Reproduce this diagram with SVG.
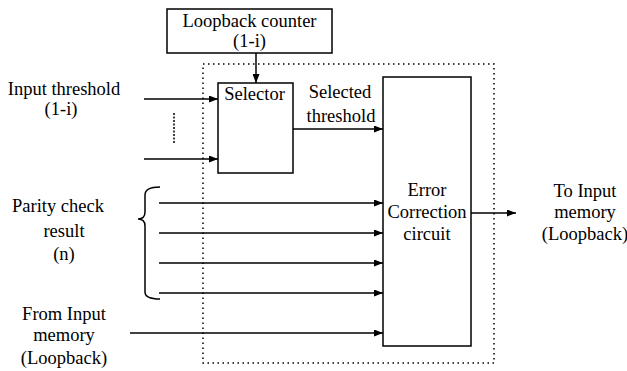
<svg xmlns="http://www.w3.org/2000/svg" width="627" height="371" viewBox="0 0 627 371" font-family="'Liberation Serif', 'DejaVu Serif', serif">
<defs>
<marker id="ah" markerWidth="9" markerHeight="7" refX="9" refY="3.5" orient="auto" markerUnits="userSpaceOnUse">
<path d="M0,0 L9,3.5 L0,7 Z" fill="#000"/>
</marker>
<style>
text{font-family:'Liberation Serif','DejaVu Serif',serif;font-size:18.5px;fill:#000;text-anchor:middle}
.box{fill:#fff;stroke:#000;stroke-width:1.5}
.ln{stroke:#000;stroke-width:1.5;fill:none}
.dot{stroke:#000;stroke-width:1.5;fill:none;stroke-dasharray:1.5 3.5}
</style>
</defs>
<rect width="627" height="371" fill="#fff"/>
<rect class="dot" x="203" y="64" width="291" height="299"/>
<g id="loopback-counter">
<rect class="box" x="167" y="9" width="165" height="44"/>
<text x="249.5" y="27">Loopback counter</text>
<text x="249.5" y="47">(1-i)</text>
</g>
<g id="selector">
<rect class="box" x="218" y="83" width="75" height="90"/>
<text x="254.5" y="100">Selector</text>
</g>
<g id="error-correction">
<rect class="box" x="383" y="77" width="88" height="269"/>
<text x="427" y="196">Error</text>
<text x="427" y="218">Correction</text>
<text x="427" y="240">circuit</text>
</g>
<g id="labels">
<text x="64" y="95">Input threshold</text>
<text x="61" y="115">(1-i)</text>
<text x="340" y="98">Selected</text>
<text x="341" y="122">threshold</text>
<text x="58" y="212">Parity check</text>
<text x="64" y="237">result</text>
<text x="64" y="260">(n)</text>
<text x="64" y="320">From Input</text>
<text x="64" y="341">memory</text>
<text x="64" y="364">(Loopback)</text>
<text x="585" y="197">To Input</text>
<text x="585" y="218">memory</text>
<text x="585" y="240">(Loopback)</text>
</g>
<g id="connectors">
<line class="ln" x1="256" y1="53" x2="256" y2="83" marker-end="url(#ah)"/>
<line class="ln" x1="144" y1="99" x2="218" y2="99" marker-end="url(#ah)"/>
<line class="ln" x1="144" y1="159" x2="218" y2="159" marker-end="url(#ah)"/>
<line class="dot" x1="174" y1="113" x2="174" y2="143" style="stroke-dasharray:2 1.5"/>
<line class="ln" x1="293" y1="129" x2="383" y2="129" marker-end="url(#ah)"/>
<line class="ln" x1="159" y1="203" x2="383" y2="203" marker-end="url(#ah)"/>
<line class="ln" x1="159" y1="233" x2="383" y2="233" marker-end="url(#ah)"/>
<line class="ln" x1="159" y1="263" x2="383" y2="263" marker-end="url(#ah)"/>
<line class="ln" x1="159" y1="293" x2="383" y2="293" marker-end="url(#ah)"/>
<line class="ln" x1="130" y1="333" x2="383" y2="333" marker-end="url(#ah)"/>
<line class="ln" x1="471" y1="213" x2="516" y2="213" marker-end="url(#ah)"/>
<path class="ln" d="M160,187 Q145,187 145,195 L145,212 Q145,219 138,219 Q145,219 145,226 L145,292 Q145,299 160,299"/>
</g>
</svg>
